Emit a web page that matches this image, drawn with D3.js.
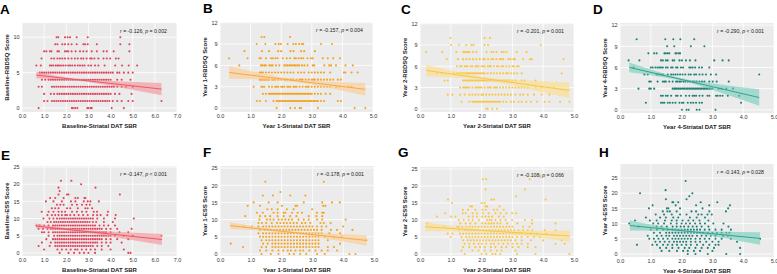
<!DOCTYPE html>
<html>
<head>
<meta charset="utf-8">
<script src="https://cdn.jsdelivr.net/npm/d3@7"></script>
<style>
  body { margin: 0; background: #fff; }
  svg { display: block; font-family: "Liberation Sans", Arial, sans-serif; }
</style>
</head>
<body>
<svg id="fig" width="777" height="274"></svg>
<script>
// ---- data: [score, [SBR values ...]] ----
const ptsA = [
  [10, [1.56,1.64,1.94,2.06,2.17,2.47,2.97,4.44]],
  [9, [1.5,1.6,1.82,1.94,2.09,2.24,2.47,2.77,2.85,2.97,3.38,4.44,4.85]],
  [8, [1.0,1.1,1.26,1.33,1.6,1.67,1.94,2.02,2.09,2.24,2.42,2.62,2.77,2.92,3.15,3.38,3.68,3.83,4.14,4.85]],
  [7, [0.88,1.33,1.45,1.6,1.71,1.82,1.94,2.09,2.24,2.39,2.52,2.67,2.77,2.92,3.08,3.15,3.27,3.45,3.68,3.83,3.98,4.24,4.36]],
  [6, [0.65,0.85,1.26,1.33,1.41,1.52,1.6,1.67,1.76,1.86,1.97,2.09,2.17,2.27,2.39,2.52,2.62,2.73,2.82,3.0,3.12,3.3,3.45,3.73,4.21,4.52,4.82,5.2]],
  [5, [0.8,0.9,1.0,1.1,1.2,1.3,1.4,1.5,1.6,1.7,1.8,1.9,2.0,2.1,2.2,2.3,2.4,2.5,2.6,2.7,2.8,2.9,3.0,3.1,3.2,3.3,3.4,3.5,3.6,3.7,3.8,3.9,4.0,4.1,4.3,4.4,4.6,4.8,5.0]],
  [4, [0.9,1.05,1.2,1.3,1.4,1.5,1.6,1.7,1.8,1.9,2.0,2.1,2.2,2.3,2.4,2.5,2.6,2.7,2.8,2.9,3.0,3.1,3.2,3.3,3.4,3.5,3.6,3.7,3.8,3.9,4.0,4.3,4.5,4.9]],
  [3, [0.75,0.9,1.35,1.45,1.55,1.65,1.75,1.85,1.95,2.05,2.15,2.25,2.35,2.45,2.55,2.65,2.75,2.85,2.95,3.05,3.15,3.25,3.35,3.45,3.55,3.65,3.75,3.85,3.95,4.05,4.15,4.3,4.5,4.7,5.0]],
  [2, [1.0,1.3,1.45,1.6,1.7,1.8,1.9,2.0,2.1,2.2,2.3,2.4,2.5,2.6,2.7,2.8,2.9,3.0,3.1,3.2,3.3,3.4,3.5,3.6,3.7,3.8,3.9,4.0,4.2,4.4,4.95]],
  [1, [1.0,1.15,1.35,1.45,1.55,1.65,1.75,1.85,1.95,2.05,2.15,2.25,2.35,2.45,2.55,2.65,2.75,2.85,2.95,3.05,3.15,3.25,3.35,3.45,3.55,3.65,3.75,3.85,3.95,4.1,4.3,4.5,4.8,5.0,6.3]],
  [0, [0.75,2.25,2.3,2.4,2.5,2.95,3.0,3.1,3.15,4.05,4.6]]
];
const ptsB = [
  [10, [1.36,1.45,2.29]],
  [9, [1.2,1.48,1.81,1.92,1.99,2.21,2.4,2.48,2.59,2.68,2.72,3.3,3.66]],
  [8, [0.8,1.37,1.6,1.9,2.0,2.3,2.4,2.65,2.75,3.1]],
  [7, [0.3,0.9,1.29,1.34,1.5,1.67,1.72,1.81,1.88,2.05,2.18,2.29,2.43,2.48,2.57,2.65,2.72,2.86,2.97,3.03,3.36,3.52,3.7,3.92]],
  [6, [0.63,1.34,1.39,1.45,1.5,1.61,1.67,1.72,1.83,1.94,2.1,2.16,2.21,2.27,2.32,2.38,2.43,2.48,2.54,2.59,2.68,2.76,2.86,3.03,3.08,3.41,3.57,3.63,3.79,4.1,4.34]],
  [5, [1.3,1.35,1.4,1.5,1.6,1.7,1.8,1.9,2.0,2.1,2.2,2.3,2.4,2.55,2.65,2.75,2.9,3.0,3.1,3.2,3.3,3.4,3.6,4.05,4.1,4.3,4.5]],
  [4, [1.3,1.35,1.4,1.45,1.5,1.55,1.6,1.7,1.75,1.8,1.9,2.0,2.1,2.15,2.2,2.3,2.35,2.4,2.5,2.6,2.65,2.7,2.8,2.9,3.0,3.05,3.1,3.2,3.3,3.4,3.5,3.6,3.7,3.85,3.95]],
  [3, [1.1,1.35,1.4,1.45,1.6,1.7,1.8,1.85,1.9,2.0,2.05,2.1,2.2,2.25,2.3,2.4,2.45,2.5,2.6,2.7,2.8,2.85,2.9,3.0,3.1,3.2,3.3,3.4,3.5,3.6,3.8,3.9,4.2,4.3]],
  [2, [1.4,1.5,1.6,1.65,1.7,1.75,1.8,1.85,1.9,1.95,2.0,2.05,2.1,2.15,2.2,2.25,2.3,2.35,2.4,2.45,2.5,2.55,2.6,2.65,2.7,2.75,2.8,2.85,2.9,2.95,3.0,3.1,3.2,3.3,3.45,3.6]],
  [1, [1.2,1.3,1.5,1.75,1.85,1.9,1.95,2.0,2.05,2.1,2.15,2.2,2.25,2.3,2.35,2.4,2.45,2.5,2.55,2.6,2.65,2.7,2.75,2.8,2.85,2.9,2.95,3.0,3.05,3.1,3.15,3.2,3.3,3.4,3.85,3.95]],
  [0, [1.85,2.3,2.45,2.6,2.65,3.2,4.4,4.75]]
];
const ptsC = [
  [10, [0.99,2.1,2.27]],
  [9, [1.01,1.26,1.5,1.67,1.74,2.1,2.21,3.92]],
  [8, [0.2,0.72,1.18,1.4,1.45,1.5,1.56,1.61,1.72,1.83,2.16,2.32,2.38,2.48,2.65,2.72,2.81,3.14,3.46]],
  [7, [0.87,1.23,1.4,1.5,1.61,1.72,1.83,1.94,2.05,2.1,2.21,2.32,2.38,2.48,2.59,2.65,2.7,2.87,2.94,3.03,3.08,3.35,3.57,3.63,4.66]],
  [6, [1.2,1.3,1.35,1.45,1.5,1.55,1.65,1.7,1.8,1.85,1.9,2.0,2.05,2.1,2.2,2.25,2.3,2.4,2.5,2.55,2.65,2.7,2.8,2.9,3.0,3.05,3.15,3.2]],
  [5, [0.55,0.7,1.1,1.2,1.25,1.3,1.35,1.4,1.45,1.5,1.55,1.6,1.65,1.7,1.75,1.8,1.85,1.9,1.95,2.0,2.05,2.1,2.2,2.3,2.4,2.5,2.6,2.7,2.8,2.85,2.95,3.05,3.15,3.3,4.6]],
  [4, [0.8,0.9,1.4,1.45,1.5,1.55,1.6,1.65,1.7,1.75,1.8,1.85,1.9,1.95,2.0,2.05,2.1,2.15,2.2,2.25,2.3,2.35,2.4,2.45,2.5,2.55,2.6,2.65,2.7,2.75,2.8,2.85,2.9,3.0,3.1,3.3,3.4,3.75]],
  [3, [1.3,1.4,1.45,1.5,1.55,1.6,1.7,1.8,1.85,1.9,1.95,2.0,2.1,2.2,2.25,2.3,2.4,2.45,2.5,2.6,2.7,2.8,2.9,3.0,3.1,3.2,3.3,3.4,3.5,3.75,3.95,4.35]],
  [2, [0.9,1.05,1.3,1.45,1.6,1.7,1.8,1.9,2.0,2.05,2.15,2.25,2.35,2.45,2.55,2.65,2.75,2.85,2.95,3.1,3.25,3.35,3.5,3.7,3.95,4.2]],
  [1, [1.35,1.6,1.7,1.75,1.8,1.85,1.9,1.95,2.0,2.05,2.1,2.15,2.2,2.25,2.3,2.35,2.4,2.45,2.5,2.55,2.6,2.7,2.8,2.95,3.05,3.2,3.3,3.45,3.6,3.8,4.05,4.2,4.55,4.85]],
  [0, [2.15,2.2,2.35,2.5]]
];
const ptsD = [
  [10, [0.54,1.47,1.73,1.96,2.41]],
  [9, [1.53,1.76,2.3,2.74]],
  [8, [0.92,1.11,1.19,1.44,1.49,1.55,1.6,1.8,1.84,1.91,1.95]],
  [7, [0.28,0.63,1.33,1.39,1.49,1.55,1.71,1.76,1.93,2.01,2.14,2.27,2.45,3.06,3.33,3.53]],
  [6, [0.44,1.0,1.06,1.15,1.22,1.28,1.33,1.39,1.49,1.55,1.66,1.71,1.82,1.87,1.98,2.05,2.25,2.3,2.36,2.44,2.57,2.66,2.9]],
  [5, [0.79,0.9,1.19,1.26,1.33,1.39,1.55,1.66,1.73,1.8,1.87,1.95,2.03,2.12,2.23,2.3,2.41,2.47,2.58,2.68,2.79,2.95,3.12,4.52]],
  [4, [0.95,1.0,1.22,1.39,1.44,1.49,1.6,1.71,1.82,1.87,1.93,1.98,2.06,2.12,2.2,2.27,2.36,2.42,2.49,2.58,2.66,2.74,2.9,3.01,3.14,3.53]],
  [3, [0.6,0.95,1.0,1.11,1.71,1.76,1.8,1.85,1.9,1.95,2.0,2.05,2.1,2.15,2.2,2.25,2.3,2.35,2.4,2.45,2.5,2.55,2.6,2.65,2.7,2.75,2.8,2.85,2.9,2.95,3.0,3.2,3.3,3.45,3.67]],
  [2, [1.33,1.39,1.49,1.55,1.66,1.82,1.87,1.98,2.14,2.25,2.36,2.41,2.47,2.58,2.68,2.84,2.9,3.12,3.17,3.25,3.33,3.5,3.87]],
  [1, [0.84,1.33,1.39,1.44,1.55,1.62,1.71,1.8,1.93,2.01,2.06,2.2,2.3,2.38,2.47,2.58,2.66,3.93]],
  [0, [2.01,2.16,2.23,2.49,2.58,3.1]]
];
const ptsE = [
  [21, [1.76,2.23]], [20, [2.67]], [19, [1.65,3.32]], [18, [1.7]],
  [17, [1.65,2.03,2.1,4.42]],
  [16, [1.27,1.5,1.88,2.41,2.52,2.82,2.86]],
  [15, [1.08,1.42,1.8,2.21,2.41,2.79,2.97,3.09,3.47]],
  [14, [1.58,1.73,1.88,2.26,2.48,2.71,2.91,3.06]],
  [13, [1.35,1.5,1.65,2.03,2.18,2.52,2.86,2.97,3.17]],
  [12, [0.89,1.2,1.42,1.65,1.8,1.95,2.26,2.48,2.71,2.91,3.24,3.39,3.88]],
  [11, [1.15,1.35,1.5,1.65,1.8,1.95,2.03,2.18,2.36,2.56,2.76,2.97,3.21,3.39,3.55,3.85,4.23]],
  [10, [0.97,1.24,1.42,1.58,1.7,1.8,1.9,2.0,2.1,2.2,2.3,2.4,2.5,2.6,2.7,2.8,2.9,3.0,3.1,3.2,3.4,3.7,4.2,5.05]],
  [9, [1.15,1.3,1.45,1.55,1.65,1.75,1.85,1.95,2.05,2.15,2.25,2.35,2.45,2.55,2.65,2.75,2.85,2.95,3.05,3.2,3.35,3.7,4.1]],
  [8, [0.65,0.8,1.0,1.2,1.4,1.5,1.6,1.7,1.8,1.9,2.0,2.1,2.2,2.3,2.4,2.5,2.6,2.7,2.8,2.9,3.0,3.1,3.2,3.3,3.5,3.7,3.9,4.2]],
  [7, [0.75,0.95,1.15,1.3,1.4,1.5,1.6,1.7,1.8,1.9,2.0,2.1,2.2,2.3,2.4,2.5,2.6,2.7,2.8,2.9,3.0,3.1,3.2,3.3,3.4,3.5,3.6,3.8,4.0,4.3,4.95]],
  [6, [0.9,1.0,1.2,1.4,1.5,1.6,1.7,1.8,1.9,2.0,2.1,2.2,2.3,2.4,2.5,2.6,2.7,2.8,2.9,3.0,3.1,3.2,3.3,3.4,3.5,3.6,3.7,3.8,4.0,4.4,4.8]],
  [5, [1.2,1.45,1.6,1.7,1.8,1.9,2.0,2.1,2.2,2.3,2.4,2.5,2.6,2.7,2.8,2.9,3.0,3.1,3.2,3.3,3.4,3.5,3.6,3.7,3.8,3.9,4.0,4.2,4.6,5.0,6.3]],
  [4, [1.1,1.4,1.5,1.6,1.7,1.8,1.9,2.0,2.1,2.2,2.3,2.4,2.5,2.6,2.7,2.8,2.9,3.0,3.1,3.2,3.3,3.4,3.5,3.6,3.8,4.0,4.3,4.8]],
  [3, [0.9,1.3,1.5,1.6,1.7,1.8,1.9,2.0,2.1,2.2,2.3,2.4,2.5,2.6,2.7,2.8,2.9,3.0,3.1,3.2,3.3,3.4,3.6,3.8,4.0,4.5]],
  [2, [0.75,1.25,1.5,1.6,1.7,1.8,1.9,2.0,2.1,2.2,2.3,2.4,2.5,2.6,2.7,2.8,2.9,3.0,3.1,3.2,3.4,3.6,3.9]],
  [1, [1.0,1.6,1.8,2.0,2.2,2.4,2.5,2.7,2.9,3.1,3.3,3.6,4.0,4.6]],
  [0, [1.7,2.1,2.35,2.6,2.8,3.0,3.3,4.8,4.9]]
];
const ptsF = [
  [21, [1.47,3.37]], [18, [1.96]],
  [17, [1.39,1.72,2.28,2.77]],
  [15, [1.09,1.58,1.87,2.72,3.32,3.64,3.89]],
  [14, [0.9,1.3,2.01,2.45,2.5,3.35,3.42]],
  [13, [1.54,1.68,1.87,2.17,2.39,2.99]],
  [12, [1.2,1.39,1.74,1.87,2.07,2.12,2.34,2.52,2.66,3.15,3.32,3.37]],
  [11, [0.82,1.3,1.47,1.63,1.87,2.07,2.28,2.48,2.88,3.13,3.32]],
  [10, [1.28,1.52,1.63,1.74,1.9,2.01,2.12,2.23,2.34,2.55,2.72,2.88,3.15,3.32,4.08]],
  [9, [1.25,1.36,1.5,1.68,1.85,1.96,2.07,2.17,2.28,2.39,2.5,2.66,2.77,2.93,3.26,3.37,3.59]],
  [8, [0.77,1.03,1.25,1.4,1.5,1.6,1.7,1.8,1.9,2.0,2.1,2.2,2.3,2.4,2.5,2.6,2.7,2.8,2.9,3.0,3.15,3.3,3.45,4.0]],
  [7, [1.3,1.45,1.55,1.65,1.75,1.85,1.95,2.05,2.15,2.25,2.35,2.45,2.55,2.65,2.75,2.85,2.95,3.05,3.15,3.3,3.6,3.8,4.3]],
  [6, [1.25,1.4,1.5,1.6,1.7,1.8,1.9,2.0,2.1,2.2,2.3,2.4,2.5,2.6,2.7,2.8,2.9,3.0,3.1,3.2,3.3,3.55,3.9]],
  [5, [1.3,1.4,1.5,1.6,1.7,1.8,1.9,2.0,2.1,2.2,2.3,2.4,2.5,2.6,2.7,2.8,2.9,3.0,3.1,3.2,3.4,3.7,3.95]],
  [4, [1.35,1.5,1.6,1.7,1.8,1.9,2.0,2.1,2.2,2.3,2.4,2.5,2.6,2.7,2.8,2.9,3.0,3.1,3.2,3.5,4.75]],
  [3, [0.35,1.4,1.55,1.7,1.8,1.9,2.0,2.1,2.2,2.3,2.4,2.5,2.6,2.7,2.8,2.9,3.0,3.1,3.2,3.9]],
  [2, [0.75,1.35,1.5,1.7,1.8,1.9,2.0,2.1,2.2,2.3,2.4,2.5,2.6,2.7,2.8,2.9,3.0,3.1,3.2,3.5,3.7]],
  [1, [1.3,1.5,1.7,1.9,2.05,2.2,2.3,2.45,2.6,2.7,2.9,3.1,3.3,3.5,3.8]],
  [0, [1.35,1.65,1.9,2.25,2.4,2.6,2.8,3.15,3.4,4.2,4.4]]
];
const ptsG = [
  [23, [3.9]], [22, [2.04,2.15,3.56]], [19, [2.13,3.41]], [17, [3.12]],
  [16, [0.91,2.32,2.4,4.08]],
  [15, [1.04,2.0,2.1]],
  [14, [1.64,1.69,2.13,2.18,2.58]],
  [13, [1.39,1.56,1.8,2.02,2.13,2.4,2.51,2.72]],
  [12, [0.82,1.39,1.48,1.71,1.85,2.04,2.23,2.45,2.61,2.8,2.99,3.12]],
  [11, [0.55,1.01,1.15,1.58,1.71,1.85,2.02,2.13,2.23,2.34,2.56,2.72]],
  [10, [1.26,1.42,1.58,1.71,1.91,2.18,2.26,2.32,2.45,2.61,2.78,2.99,3.41,3.64]],
  [9, [0.24,1.31,1.48,1.64,1.8,2.02,2.13,2.23,2.32,2.4,2.51,2.61,2.83,3.16,3.64,4.4]],
  [8, [0.78,1.2,1.26,1.37,1.5,1.6,1.7,1.8,1.9,2.0,2.1,2.2,2.3,2.4,2.5,2.6,2.7,2.8,2.9,3.0,3.35,3.55]],
  [7, [1.25,1.45,1.55,1.65,1.75,1.85,1.95,2.05,2.15,2.25,2.35,2.45,2.55,2.65,2.75,2.85,2.95,3.05,3.2,3.35,3.5,3.65,4.05,4.4]],
  [6, [0.9,1.05,1.3,1.4,1.5,1.6,1.7,1.8,1.9,2.0,2.1,2.2,2.3,2.4,2.5,2.6,2.7,2.8,2.9,3.0,3.1,3.2,3.3,3.45,3.6,3.8,4.1]],
  [5, [1.0,1.35,1.5,1.6,1.7,1.8,1.9,2.0,2.1,2.2,2.3,2.4,2.5,2.6,2.7,2.8,2.9,3.0,3.15,3.3,3.5,3.7,3.9]],
  [4, [1.4,1.55,1.65,1.75,1.85,1.95,2.05,2.15,2.25,2.35,2.45,2.55,2.65,2.75,2.85,2.95,3.1,3.3,3.6,4.0,4.6]],
  [3, [1.45,1.6,1.75,1.9,2.0,2.15,2.3,2.4,2.55,2.7,2.85,3.0,3.15,3.3,3.5,4.4,4.7]],
  [2, [1.4,1.6,1.8,1.95,2.1,2.3,2.45,2.65,2.8,3.0,3.2,3.5,3.75]],
  [1, [1.35,1.7,1.9,2.1,2.3,2.5,2.65,3.1]],
  [0, [1.45,2.0,2.15,2.35,2.45,2.6,3.15,3.75,4.85]]
];
const ptsH = [
  [24, [2.13]], [21, [1.48]], [20, [0.65,2.35]], [19, [2.25]], [18, [1.49,2.16]],
  [17, [1.7,1.73,1.89,2.62,3.16]],
  [16, [1.06,1.81,2.47,2.9,3.57]],
  [15, [0.94,1.52,1.57,1.95,2.68,3.51]],
  [14, [1.39,1.54,1.62,1.84,2.32,2.47,2.9,3.44]],
  [13, [1.16,1.43,1.68,1.95,2.16,2.54,2.65,2.84,2.98]],
  [12, [0.84,1.3,1.49,1.73,1.89,2.27,2.49,2.76]],
  [11, [0.49,0.97,1.19,1.46,1.68,1.84,2.03,2.22,2.38,2.58,2.87]],
  [10, [0.3,1.08,1.24,1.43,1.65,1.84,2.0,2.14,2.27,2.44,2.6,2.76,3.03,3.36]],
  [9, [0.6,1.19,1.35,1.52,1.71,1.84,1.97,2.08,2.22,2.36,2.49,2.65,2.87,3.52]],
  [8, [1.0,1.2,1.4,1.55,1.7,1.8,1.9,2.0,2.1,2.2,2.3,2.4,2.5,2.6,2.75,2.9,3.1,3.3,3.6]],
  [7, [1.1,1.3,1.5,1.6,1.7,1.8,1.9,2.0,2.1,2.2,2.3,2.4,2.5,2.6,2.7,2.85,3.0,3.15,3.3,3.45,3.55]],
  [6, [0.9,1.2,1.35,1.5,1.6,1.75,1.85,1.95,2.05,2.15,2.25,2.35,2.5,2.65,2.8,2.95,3.1,3.35,3.5]],
  [5, [0.95,1.1,1.25,1.4,1.55,1.7,1.8,1.9,2.0,2.1,2.2,2.3,2.45,2.6,2.75,2.9,3.1,3.3,3.6,4.55]],
  [4, [1.15,1.3,1.45,1.6,1.75,1.85,1.95,2.05,2.15,2.3,2.45,2.6,2.8,3.0,3.2,3.8]],
  [3, [0.55,1.05,1.2,1.4,1.55,1.7,1.85,2.0,2.15,2.3,2.5,2.7,2.9,3.1,3.2]],
  [2, [1.3,1.5,1.7,1.9,2.1,2.25,2.45,2.65,2.85,3.05,3.9]],
  [1, [1.35,1.6,1.85,2.05,2.2,2.4,2.6,3.0]],
  [0, [2.2,2.45,2.85,3.45,3.9]]
];

// regression line ends and confidence band
const fitX = [[0.65,6.3],[0.3,4.75],[0.2,4.85],[0.3,4.52],[0.64,6.32],[0.33,4.76],[0.17,4.86],[0.32,4.55]];
const fitY = [[4.65,2.68],[5.0,2.64],[5.41,2.59],[6.02,1.74],[7.8,3.9],[8.24,3.92],[8.0,5.27],[9.35,5.1]];
const bandX = [
  [0.65,1.6,2.6,4.5,6.3],[0.3,1.4,2.45,3.6,4.75],[0.2,1.2,2.2,3.5,4.85],[0.3,1.1,1.9,3.2,4.52],
  [0.64,1.5,2.45,4.4,6.32],[0.33,1.2,2.1,3.4,4.76],[0.17,1.2,2.28,3.6,4.86],[0.32,1.25,2.2,3.4,4.55]
];
const bandLo = [
  [4.17,4.1,3.85,2.86,1.81],[4.13,3.99,3.68,2.8,1.77],[4.59,4.38,4.0,2.83,1.48],[5.32,4.84,4.22,2.53,0.56],
  [7.07,6.83,6.26,4.37,2.3],[7.29,6.89,6.22,4.51,2.37],[6.65,6.68,6.37,5.15,3.62],[7.7,7.57,7.01,5.21,3.05]
];
const bandHi = [
  [5.13,4.54,4.09,3.76,3.55],[5.87,4.85,4.04,3.7,3.51],[6.23,5.22,4.4,3.99,3.7],[6.72,5.58,4.58,3.63,2.92],
  [8.53,7.59,6.86,6.07,5.5],[9.19,7.89,6.82,6.01,5.47],[9.35,8.12,7.17,6.85,6.92],[11.0,9.27,7.91,7.31,7.15]
];

const letters = ["A","B","C","D","E","F","G","H"];
const xLabels = ["Baseline-Striatal DAT SBR","Year 1-Striatal DAT SBR","Year 2-Striatal DAT SBR","Year 4-Striatal DAT SBR",
                 "Baseline-Striatal DAT SBR","Year 1-Striatal DAT SBR","Year 2-Striatal DAT SBR","Year 4-Striatal DAT SBR"];
const yLabels = ["Baseline-RBDSQ Score","Year 1-RBDSQ Score","Year 2-RBDSQ Score","Year 4-RBDSQ Score",
                 "Baseline-ESS Score","Year 1-ESS Score","Year 2-ESS Score","Year 4-ESS Score"];
const rText = ["-0.126","-0.157","-0.201","-0.290","-0.147","-0.178","-0.108","-0.143"];
const pText = ["= 0.002","= 0.004","= 0.001","< 0.001","< 0.001","= 0.001","= 0.066","= 0.028"];
const xTicks7 = [0,1,2,3,4,5,6,7];
const xTicks5 = [0,1,2,3,4,5];
const yTicksA = [0,5,10];
const yTicks12 = [0,3,6,9,12];
const yTicks25 = [0,5,10,15,20,25];

// colours per study visit
const pointCol = ["#e3425a","#f6a21e","#fbc543","#1e8076"];
const lineCol  = ["#e5505f","#f5a53a","#f8c243","#2b9888"];
const bandCol  = ["#f58d94","#fcc98a","#fcdc84","#72cdb9"];

// ---- layout ----
const panels = [
  {l:22,  r:177, t:23,  b:112, xd:[0,7], yd:[-0.55,12],  xt:xTicks7, yt:yTicksA,  pts:ptsA, lx:0,   ly:13.5},
  {l:220, r:373, t:22,  b:112, xd:[0,5], yd:[-0.55,12.1], xt:xTicks5, yt:yTicks12, pts:ptsB, lx:203, ly:13},
  {l:420, r:574, t:23,  b:112, xd:[0,5], yd:[-0.45,12.1], xt:xTicks5, yt:yTicks12, pts:ptsC, lx:401, ly:13.5},
  {l:620, r:774, t:23,  b:113, xd:[0,5], yd:[-0.45,12.3], xt:xTicks5, yt:yTicks12, pts:ptsD, lx:593, ly:14},
  {l:22,  r:177, t:166, b:256, xd:[0,7], yd:[-0.9,25.3],  xt:xTicks7, yt:yTicks25, pts:ptsE, lx:1,   ly:160},
  {l:220, r:374, t:166, b:256, xd:[0,5], yd:[-0.6,25.6],  xt:xTicks5, yt:yTicks25, pts:ptsF, lx:203, ly:156.5},
  {l:420, r:574, t:167, b:256, xd:[0,5], yd:[-0.6,25.6],  xt:xTicks5, yt:yTicks25, pts:ptsG, lx:398, ly:157},
  {l:620, r:774, t:164, b:257, xd:[0,5], yd:[-1.0,29.6],  xt:xTicks5, yt:yTicks25, pts:ptsH, lx:599, ly:156.5}
];

const svg = d3.select("#fig");

panels.forEach(function (p, i) {
  const c = i % 4;
  const g = svg.append("g");
  const x = d3.scaleLinear().domain(p.xd).range([p.l, p.r]);
  const y = d3.scaleLinear().domain(p.yd).range([p.b, p.t]);

  g.append("rect")
    .attr("x", p.l).attr("y", p.t)
    .attr("width", p.r - p.l).attr("height", p.b - p.t)
    .attr("fill", "#ebebeb");

  g.append("g").selectAll("line").data(p.xt).join("line")
    .attr("x1", d => x(d)).attr("x2", d => x(d))
    .attr("y1", p.t).attr("y2", p.b)
    .attr("stroke", "#fff").attr("stroke-width", 0.8);
  g.append("g").selectAll("line").data(p.yt).join("line")
    .attr("x1", p.l).attr("x2", p.r)
    .attr("y1", d => y(d)).attr("y2", d => y(d))
    .attr("stroke", "#fff").attr("stroke-width", 0.8);

  const ax = g.append("g")
    .attr("transform", "translate(0," + p.b + ")")
    .call(d3.axisBottom(x).tickValues(p.xt).tickSize(0).tickPadding(2));
  const ay = g.append("g")
    .attr("transform", "translate(" + p.l + ",0)")
    .call(d3.axisLeft(y).tickValues(p.yt).tickSize(0).tickPadding(2.5));
  [ax, ay].forEach(function (a) {
    a.select(".domain").remove();
    a.attr("font-size", 5.5).attr("font-family", null);
    a.selectAll("text").attr("fill", "#333");
  });

  // scatter
  const dots = p.pts.flatMap(([s, xs]) => xs.map(v => [v, s]));
  g.append("g").selectAll("circle").data(dots).join("circle")
    .attr("cx", d => x(d[0])).attr("cy", d => y(d[1]))
    .attr("r", 1.05)
    .attr("fill", pointCol[c]);

  // confidence band + fit
  const band = bandX[i].map((v, k) => [v, bandLo[i][k], bandHi[i][k]]);
  g.append("path")
    .datum(band)
    .attr("d", d3.area().x(d => x(d[0])).y0(d => y(d[1])).y1(d => y(d[2])).curve(d3.curveMonotoneX))
    .attr("fill", bandCol[c]).attr("fill-opacity", 0.6);
  g.append("path")
    .datum(fitX[i].map((v, k) => [v, fitY[i][k]]))
    .attr("d", d3.line().x(d => x(d[0])).y(d => y(d[1])))
    .attr("stroke", lineCol[c]).attr("stroke-width", 0.9).attr("fill", "none");

  // stat annotation
  const st = g.append("text")
    .attr("x", p.r - 10).attr("y", p.t + 10)
    .attr("text-anchor", "end")
    .attr("font-size", 5.2).attr("fill", "#222");
  st.append("tspan").attr("font-style", "italic").text("r");
  st.append("tspan").text(" = " + rText[i] + ", ");
  st.append("tspan").attr("font-style", "italic").text("p");
  st.append("tspan").text(" " + pText[i]);

  // axis titles
  g.append("text")
    .attr("x", (p.l + p.r) / 2).attr("y", p.b + 15.5)
    .attr("text-anchor", "middle")
    .attr("font-size", 6).attr("font-weight", "bold").attr("fill", "#222")
    .text(xLabels[i]);
  g.append("text")
    .attr("transform", "translate(" + (p.l - 13) + "," + ((p.t + p.b) / 2) + ") rotate(-90)")
    .attr("text-anchor", "middle")
    .attr("font-size", 6).attr("font-weight", "bold").attr("fill", "#222")
    .text(yLabels[i]);

  // panel letter
  g.append("text")
    .attr("x", p.lx).attr("y", p.ly)
    .attr("font-size", 13.5).attr("font-weight", "bold").attr("fill", "#000")
    .text(letters[i]);
});
</script>
</body>
</html>
